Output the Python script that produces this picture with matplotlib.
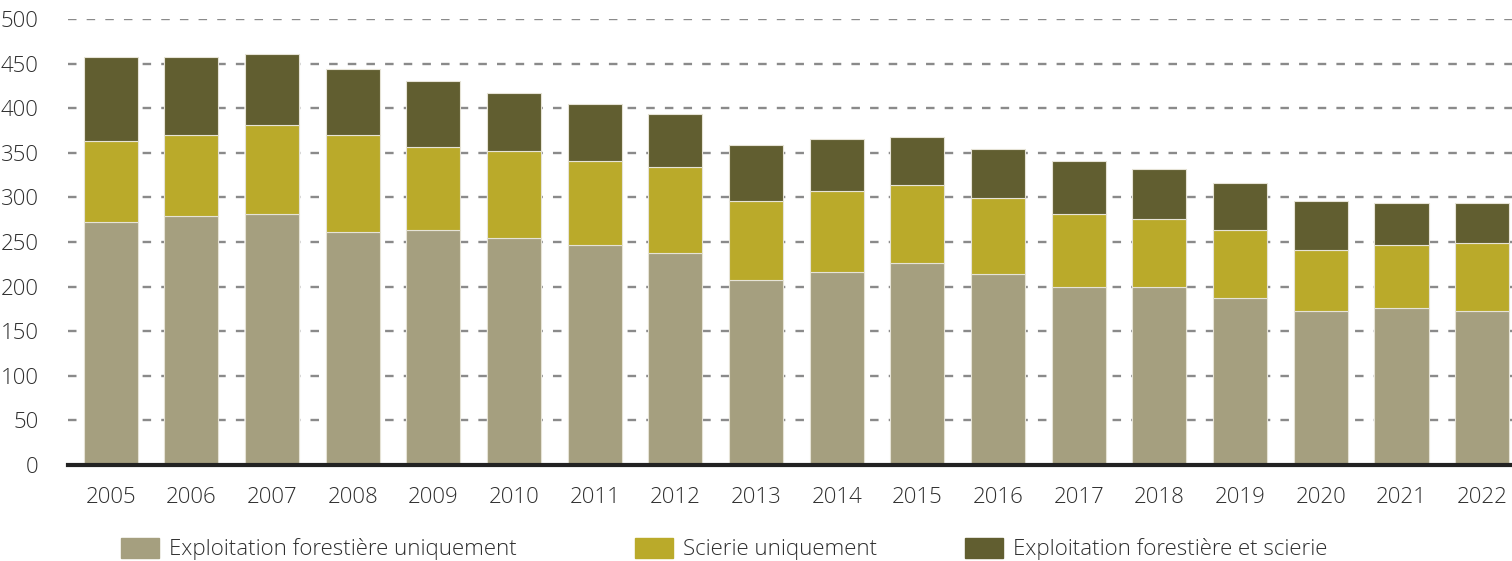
import matplotlib.pyplot as plt
import matplotlib.patches as mpatches
import numpy as np

# Number of establishments by activity type, 2005-2022
years = [str(y) for y in range(2005, 2023)]
exploitation_only = [272, 279, 281, 261, 263, 254, 247, 238, 207, 216,
                     227, 214, 200, 200, 187, 173, 176, 173]
scierie_only = [91, 91, 100, 109, 93, 98, 94, 96, 89, 91,
                87, 85, 81, 76, 76, 68, 71, 76]
both = [94, 87, 80, 74, 74, 65, 64, 60, 63, 58,
        54, 55, 60, 56, 53, 55, 47, 45]

labels = ["Exploitation forestière uniquement",
          "Scierie uniquement",
          "Exploitation forestière et scierie"]
colors = ["#A59F7F", "#BAAA2A", "#615E30"]

plt.rcParams['font.family'] = ['Open Sans', 'DejaVu Sans']
text_color = "#2E2E2E"
fs = 16

fig = plt.figure(figsize=(15.12, 5.61), dpi=100)
ax = fig.add_axes([68 / 1512, 1 - 465 / 561, 1 - 68 / 1512, 446 / 561])

x = np.arange(len(years))
w = 0.67
edge = "#E6E3D6"
ax.bar(x, exploitation_only, w, color=colors[0], edgecolor=edge, linewidth=0.8, zorder=2)
bottom2 = np.array(exploitation_only)
ax.bar(x, scierie_only, w, bottom=bottom2, color=colors[1], edgecolor=edge, linewidth=0.8, zorder=2)
bottom3 = bottom2 + np.array(scierie_only)
ax.bar(x, both, w, bottom=bottom3, color=colors[2], edgecolor=edge, linewidth=0.8, zorder=2)

ax.set_xlim(-0.53, len(years) - 1 + 0.37)
ax.set_ylim(0, 500)
ax.set_yticks(range(0, 501, 50))
ax.set_xticks(x)
ax.set_xticklabels(years)
ax.tick_params(axis='both', length=0, labelsize=fs, colors=text_color)
ax.tick_params(axis='y', pad=21)
ax.tick_params(axis='x', pad=16)
for lab in ax.get_xticklabels() + ax.get_yticklabels():
    lab.set_fontweight('light')

ax.yaxis.grid(True, color="#8A8A8A", linewidth=1.7, linestyle=(0, (3.6, 4.3)), zorder=0)
ax.set_axisbelow(True)
for s in ['top', 'right', 'left']:
    ax.spines[s].set_visible(False)
ax.spines['bottom'].set_linewidth(3)
ax.spines['bottom'].set_color("#222222")
ax.spines['bottom'].set_zorder(3)

# Legend entries laid out along the bottom
legend_x = [121 / 1512, 635 / 1512, 965 / 1512]
for lx, lab, col in zip(legend_x, labels, colors):
    h = mpatches.Patch(color=col, label=lab)
    leg = fig.legend(handles=[h], loc='center left', bbox_to_anchor=(lx, 1 - 549 / 561),
                     frameon=False, fontsize=fs, handlelength=1.7, handleheight=1.0,
                     handletextpad=0.45, borderpad=0, borderaxespad=0)
    for t in leg.get_texts():
        t.set_color(text_color)
        t.set_fontweight('light')

fig.savefig("out.png", dpi=100)
